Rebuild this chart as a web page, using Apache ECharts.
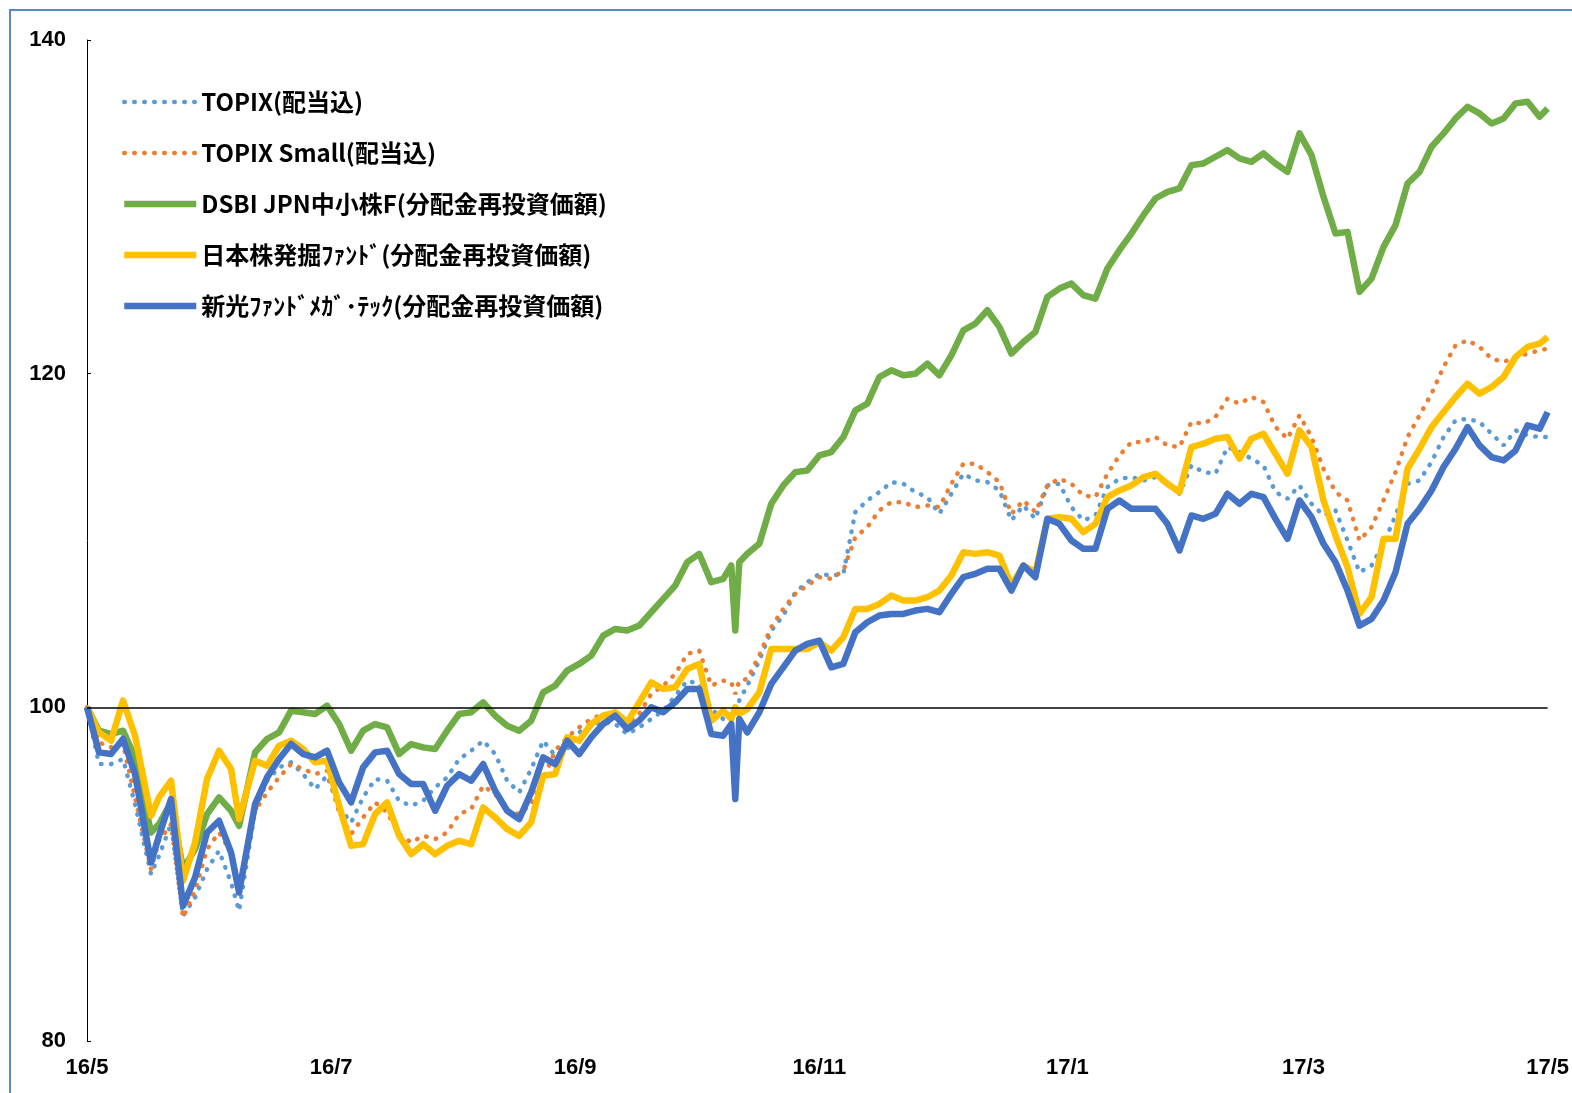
<!DOCTYPE html>
<html lang="ja">
<head>
    <meta charset="UTF-8">
    <title>chart</title>
    <script src="https://cdn.jsdelivr.net/npm/echarts@6/dist/echarts.min.js"></script>
    <style>
        html, body { margin: 0; padding: 0; background: #fff; }
        #main { width: 1572px; height: 1093px; }
    </style>
</head>
<body>
<div id="main"></div>
<script>
    // 基準日 2016-05-31 = 100
    var dates = [
        '2016-05-31', '2016-06-03', '2016-06-06', '2016-06-09', '2016-06-12', '2016-06-16', '2016-06-18', '2016-06-21', '2016-06-24', '2016-06-27', '2016-06-30',
        '2016-07-03', '2016-07-06', '2016-07-08', '2016-07-12', '2016-07-15', '2016-07-18', '2016-07-21', '2016-07-24', '2016-07-27', '2016-07-30',
        '2016-08-02', '2016-08-05', '2016-08-08', '2016-08-11', '2016-08-14', '2016-08-17', '2016-08-20', '2016-08-23', '2016-08-26', '2016-08-29',
        '2016-09-01', '2016-09-04', '2016-09-07', '2016-09-10', '2016-09-13', '2016-09-16', '2016-09-19', '2016-09-22', '2016-09-25', '2016-09-28',
        '2016-10-01', '2016-10-04', '2016-10-07', '2016-10-10', '2016-10-13', '2016-10-16', '2016-10-19', '2016-10-22', '2016-10-25', '2016-10-28', '2016-10-31',
        '2016-11-03', '2016-11-06', '2016-11-08', '2016-11-09', '2016-11-10', '2016-11-12', '2016-11-15', '2016-11-18', '2016-11-21', '2016-11-24', '2016-11-27', '2016-11-30',
        '2016-12-03', '2016-12-06', '2016-12-09', '2016-12-12', '2016-12-15', '2016-12-18', '2016-12-21', '2016-12-24', '2016-12-27', '2016-12-30',
        '2017-01-02', '2017-01-05', '2017-01-08', '2017-01-11', '2017-01-14', '2017-01-17', '2017-01-20', '2017-01-23', '2017-01-26', '2017-01-29',
        '2017-02-01', '2017-02-04', '2017-02-07', '2017-02-10', '2017-02-13', '2017-02-16', '2017-02-19', '2017-02-22', '2017-02-25', '2017-02-28',
        '2017-03-03', '2017-03-06', '2017-03-09', '2017-03-12', '2017-03-15', '2017-03-18', '2017-03-21', '2017-03-24', '2017-03-27', '2017-03-30',
        '2017-04-02', '2017-04-05', '2017-04-08', '2017-04-11', '2017-04-14', '2017-04-17', '2017-04-20', '2017-04-23', '2017-04-26', '2017-04-29',
        '2017-05-02', '2017-05-05', '2017-05-08', '2017-05-11', '2017-05-14', '2017-05-17', '2017-05-20', '2017-05-23', '2017-05-26', '2017-05-29', '2017-05-31'
    ];

    var topix = [
        100, 96.6, 96.6, 96.9, 94.2, 90.0, 91.1, 93.0, 87.5, 88.6, 90.3,
        91.4, 89.5, 87.8, 93.8, 95.6, 96.4, 96.7, 96.0, 95.1, 95.9,
        94.0, 93.1, 94.6, 95.7, 95.6, 94.4, 94.1, 94.4, 95.2, 95.8,
        96.9, 97.4, 98.0, 97.2, 95.6, 94.9, 96.3, 98.0, 97.1, 97.5,
        98.5, 99.0, 99.1, 99.0, 98.4, 98.8, 99.3, 99.8, 100.7, 101.6, 101.4,
        99.9, 99.3, 99.6, 99.5, 100.4, 101.3, 102.8, 104.6, 105.5, 106.9, 107.5, 108.0,
        107.9, 108.0, 111.7, 112.4, 112.9, 113.5, 113.4, 112.9, 112.6, 111.6,
        112.8, 114.0, 113.6, 113.5, 113.0, 111.2, 112.1, 111.3, 113.3, 113.4,
        112.0, 111.2, 111.5, 113.2, 113.7, 113.8, 113.6, 113.8, 113.4, 112.8,
        114.5, 114.1, 114.0, 115.6, 115.3, 114.9, 114.5, 112.9, 112.5, 113.3,
        112.2, 111.5, 111.8, 110.0, 108.1, 108.5, 109.8, 111.5, 113.4, 113.6,
        114.7, 116.2, 117.2, 117.3, 117.1, 116.4, 115.7, 116.6, 116.3, 116.2, 116.2
    ];

    var topixSmall = [
        100, 97.9, 97.6, 97.8, 94.6, 90.3, 92.0, 93.0, 87.4, 89.0, 91.5,
        92.5, 91.3, 89.3, 93.8, 94.9, 95.8, 96.6, 96.3, 96.0, 96.2,
        93.7, 92.4, 93.4, 94.3, 93.7, 92.4, 91.9, 92.3, 92.1, 92.5,
        93.6, 93.9, 95.3, 94.8, 93.8, 93.6, 94.2, 95.7, 97.4, 98.2,
        98.8, 99.3, 99.6, 99.4, 99.0, 99.6, 100.8, 101.3, 102.0, 103.2, 103.4,
        101.3, 101.6, 101.5, 100.8, 101.6, 101.7, 103.1, 104.8, 105.9, 106.8, 107.3, 107.8,
        107.7, 108.2, 110.2, 110.8, 111.8, 112.3, 112.3, 112.0, 112.1, 112.0,
        113.4, 114.6, 114.6, 114.1, 113.5, 111.6, 112.4, 111.7, 113.3, 113.7,
        113.4, 112.7, 112.6, 114.0, 115.1, 115.9, 115.9, 116.2, 115.7, 115.6,
        117.1, 117.0, 117.4, 118.5, 118.2, 118.6, 118.3, 116.8, 116.1, 117.5,
        116.2, 114.3, 112.9, 112.4, 110.0, 110.8, 112.4, 114.1, 116.2, 117.5,
        118.8, 120.4, 121.7, 122.0, 121.6, 120.9, 120.7, 121.0, 121.2, 121.4, 121.5
    ];

    var dsbiFund = [
        100, 98.6, 98.4, 98.6, 97.0, 92.5, 93.0, 94.3, 90.3, 91.5, 93.6,
        94.6, 93.8, 92.9, 97.3, 98.1, 98.5, 99.8, 99.7, 99.6, 100.1,
        99.0, 97.4, 98.6, 99.0, 98.8, 97.2, 97.8, 97.6, 97.5, 98.6,
        99.6, 99.7, 100.3, 99.5, 98.9, 98.6, 99.2, 100.9, 101.3, 102.2,
        102.6, 103.1, 104.3, 104.7, 104.6, 104.9, 105.7, 106.5, 107.3, 108.7, 109.2,
        107.5, 107.7, 108.5, 104.6, 108.7, 109.2, 109.8, 112.2, 113.3, 114.1, 114.2, 115.1,
        115.3, 116.2, 117.8, 118.2, 119.8, 120.2, 119.9, 120.0, 120.6, 119.9,
        121.1, 122.6, 123.0, 123.8, 122.8, 121.2, 121.9, 122.5, 124.6, 125.1,
        125.4, 124.7, 124.5, 126.3, 127.4, 128.4, 129.5, 130.5, 130.9, 131.1,
        132.5, 132.6, 133.0, 133.4, 132.9, 132.7, 133.2, 132.6, 132.1, 134.4,
        133.1, 130.6, 128.4, 128.5, 124.9, 125.7, 127.6, 128.9, 131.4, 132.1,
        133.6, 134.4, 135.3, 136.0, 135.6, 135.0, 135.3, 136.2, 136.3, 135.4, 135.9
    ];

    var hakkutsuFund = [
        100, 98.5, 98.0, 100.4, 98.3, 93.5, 94.6, 95.6, 89.6, 91.9, 95.7,
        97.4, 96.3, 93.3, 96.8, 96.5, 97.7, 98.0, 97.5, 96.7, 96.8,
        94.1, 91.7, 91.8, 93.6, 94.3, 92.3, 91.2, 91.8, 91.2, 91.7,
        92.0, 91.8, 94.0, 93.4, 92.7, 92.3, 93.1, 95.9, 96.0, 98.2,
        98.0, 99.0, 99.5, 99.7, 99.1, 100.3, 101.5, 101.1, 101.2, 102.3, 102.6,
        99.2, 99.8, 99.3, 100.0, 99.6, 99.9, 100.9, 103.5, 103.5, 103.5, 103.5, 103.9,
        103.4, 104.2, 105.9, 105.9, 106.2, 106.7, 106.4, 106.4, 106.6, 107.0,
        107.9, 109.3, 109.2, 109.3, 109.1, 107.3, 108.5, 108.1, 111.3, 111.4,
        111.3, 110.5, 111.0, 112.6, 113.0, 113.3, 113.8, 114.0, 113.4, 112.9,
        115.6, 115.8, 116.1, 116.2, 114.9, 116.1, 116.4, 115.2, 114.0, 116.6,
        115.6, 112.4, 110.3, 108.4, 105.6, 106.6, 110.1, 110.1, 114.3, 115.5,
        116.8, 117.7, 118.6, 119.4, 118.8, 119.2, 119.8, 121.0, 121.6, 121.8, 122.2
    ];

    var megaTechFund = [
        100, 97.3, 97.2, 98.1, 96.0, 90.7, 92.3, 94.5, 88.1, 89.8, 92.5,
        93.2, 91.3, 88.9, 94.2, 95.8, 96.9, 97.8, 97.2, 97.0, 97.4,
        95.5, 94.3, 96.4, 97.3, 97.4, 96.0, 95.4, 95.4, 93.8, 95.3,
        96.0, 95.6, 96.6, 95.0, 93.8, 93.3, 94.9, 97.0, 96.6, 98.0,
        97.2, 98.2, 99.0, 99.5, 98.7, 99.2, 100.0, 99.7, 100.3, 101.1, 101.1,
        98.4, 98.3, 99.0, 94.5, 99.3, 98.5, 99.7, 101.4, 102.4, 103.4, 103.8, 104.0,
        102.4, 102.6, 104.5, 105.1, 105.5, 105.6, 105.6, 105.8, 105.9, 105.7,
        106.8, 107.8, 108.0, 108.3, 108.3, 107.0, 108.5, 107.8, 111.3, 111.0,
        110.0, 109.5, 109.5, 111.9, 112.4, 111.9, 111.9, 111.9, 111.0, 109.4,
        111.5, 111.3, 111.6, 112.8, 112.2, 112.8, 112.6, 111.3, 110.1, 112.4,
        111.4, 109.8, 108.7, 107.0, 104.9, 105.3, 106.4, 108.1, 111.0, 111.9,
        113.0, 114.4, 115.5, 116.8, 115.7, 115.0, 114.8, 115.4, 116.9, 116.7, 117.7
    ];

    var seriesNames = [
        'TOPIX(配当込)',
        'TOPIX Small(配当込)',
        'DSBI JPN中小株F(分配金再投資価額)',
        '日本株発掘ﾌｧﾝﾄﾞ(分配金再投資価額)',
        '新光ﾌｧﾝﾄﾞﾒｶﾞ･ﾃｯｸ(分配金再投資価額)'
    ];
    var seriesColors = ['#5B9BD5', '#ED7D31', '#70AD47', '#FFC000', '#4472C4'];

    var xTickDates = ['2016-05-31', '2016-07-31', '2016-09-30', '2016-11-30', '2017-01-31', '2017-03-31', '2017-05-31'];
    var xTickLabels = ['16/5', '16/7', '16/9', '16/11', '17/1', '17/3', '17/5'];

    function toTime(s) {
        return new Date(s + 'T00:00:00').getTime();
    }

    function pairs(values) {
        return dates.map(function (d, i) {
            return [toTime(d), values[i]];
        });
    }

    var tickTimes = xTickDates.map(toTime);
    var labelFont = "'Liberation Sans Narrow', 'Liberation Sans', 'Noto Sans CJK JP', sans-serif";
    var legendFont = "'Noto Sans CJK JP', sans-serif";

    var dotted = {width: 4.5, type: [0.5, 9.5], cap: 'round'};

    function lineSeries(i, values, style) {
        return {
            name: seriesNames[i],
            type: 'line',
            symbol: 'none',
            data: pairs(values),
            itemStyle: {color: seriesColors[i]},
            lineStyle: Object.assign({color: seriesColors[i]}, style)
        };
    }

    var chart = echarts.init(document.getElementById('main'));
    var series = [
        lineSeries(0, topix, dotted),
        lineSeries(1, topixSmall, dotted),
        lineSeries(2, dsbiFund, {width: 6.5, join: 'round'}),
        lineSeries(3, hakkutsuFund, {width: 6.5, join: 'round'}),
        lineSeries(4, megaTechFund, {width: 6.5, join: 'round'})
    ];
    // 100 の基準線
    series[0].markLine = {
        silent: true,
        symbol: 'none',
        label: {show: false},
        lineStyle: {color: '#000', width: 1.5, type: 'solid'},
        data: [{yAxis: 100}]
    };

    var option = {
        animation: false,
        backgroundColor: '#fff',
        graphic: [{
            type: 'rect',
            shape: {x: 10, y: 10, width: 1700, height: 1300},
            style: {fill: 'none', stroke: '#5A8AC6', lineWidth: 2},
            silent: true
        }],
        grid: {left: 87, right: 19, top: 40, bottom: 52},
        legend: {
            orient: 'vertical',
            left: 116,
            top: 85,
            itemWidth: 72,
            itemHeight: 24,
            itemGap: 27,
            itemStyle: {opacity: 0},
            textStyle: {fontFamily: legendFont, fontSize: 24, fontWeight: 'bold', color: '#000', lineHeight: 24},
            data: seriesNames.map(function (n, i) {
                return {
                    name: n,
                    itemStyle: {opacity: 0},
                    lineStyle: {width: i < 2 ? 4.5 : 6.5, opacity: 1}
                };
            })
        },
        xAxis: {
            type: 'value',
            min: tickTimes[0],
            max: tickTimes[tickTimes.length - 1],
            axisLine: {show: false},
            axisTick: {show: false},
            splitLine: {show: false},
            axisLabel: {
                customValues: tickTimes,
                margin: 16,
                hideOverlap: false,
                color: '#000',
                fontFamily: labelFont,
                fontSize: 22,
                fontWeight: 'bold',
                formatter: function (value) {
                    for (var i = 0; i < tickTimes.length; i++) {
                        if (Math.abs(tickTimes[i] - value) < 43200000) {
                            return xTickLabels[i];
                        }
                    }
                    return '';
                }
            }
        },
        yAxis: {
            type: 'value',
            min: 80,
            max: 140,
            interval: 20,
            axisLine: {show: true, lineStyle: {color: '#000', width: 1}},
            axisTick: {show: true, inside: true, length: 4, lineStyle: {color: '#000'}},
            splitLine: {show: false},
            axisLabel: {
                margin: 21,
                color: '#000',
                fontFamily: labelFont,
                fontSize: 22,
                fontWeight: 'bold'
            }
        },
        series: series
    };
    chart.setOption(option);
</script>
</body>
</html>
